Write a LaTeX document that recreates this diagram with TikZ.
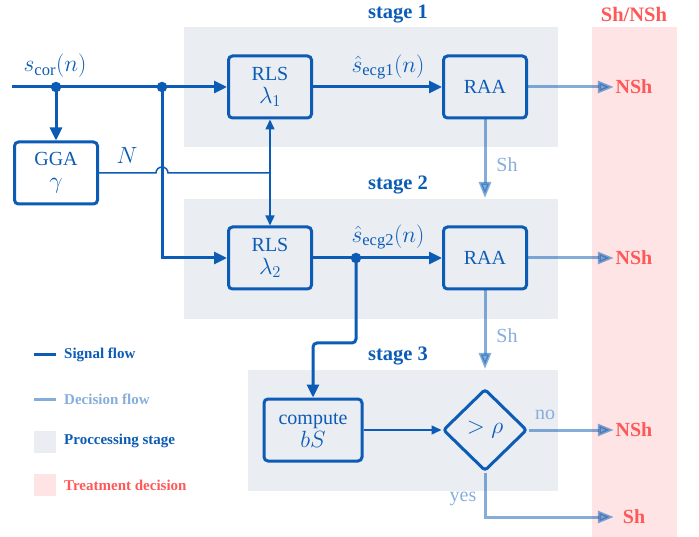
\RequirePackage{fix-cm}
\documentclass[tikz,border=0pt]{standalone}
\usepackage{fontspec}
\setmainfont{Liberation Serif}
\DeclareMathSizes{20}{23.5}{16.5}{12.5}
\usetikzlibrary{arrows.meta,shapes.geometric,calc}
\definecolor{sigblue}{RGB}{12,92,182}
\definecolor{stagegray}{RGB}{234,237,242}
\definecolor{pinkbg}{RGB}{254,228,228}
\definecolor{redtxt}{RGB}{255,88,88}
\begin{document}
\begin{tikzpicture}[x=1pt,y=-1pt,font=\fontsize{20}{23}\selectfont,
  block/.style={draw=sigblue,line width=3pt,rounded corners=4pt,minimum width=83pt,minimum height=62pt,text=sigblue,align=center,inner sep=0pt},
  decide/.style={diamond,draw=sigblue,line width=3pt,rounded corners=3pt,minimum width=84pt,minimum height=82pt,text=sigblue,inner sep=0pt},
  sig/.style={draw=sigblue,line width=3pt,-{Triangle[length=13pt,width=12pt]}},
  sigline/.style={draw=sigblue,line width=3pt},
  thinsig/.style={draw=sigblue,line width=1.5pt,-{Triangle[length=10pt,width=9pt]}},
  thinline/.style={draw=sigblue,line width=1.5pt},
  dec/.style={draw=sigblue,opacity=0.5,line width=3pt,-{Triangle[length=16pt,width=12pt]}},
  target/.style={text=redtxt,font=\fontsize{20}{23}\selectfont\bfseries,minimum width=40pt,inner sep=0pt},
  declabel/.style={text=sigblue!50,inner sep=0pt},
  stagelabel/.style={text=sigblue,font=\fontsize{20.5}{23}\selectfont\bfseries,inner sep=0pt},
  legtext/.style={font=\fontsize{15}{17}\selectfont\bfseries,anchor=west,inner sep=0pt},
  dot/.style={circle,fill=sigblue,inner sep=0pt,minimum size=10.5pt}
]
\useasboundingbox (0,0) rectangle (699,537);
% backgrounds
\fill[stagegray] (184,27) rectangle (558,147);
\fill[stagegray] (184,199) rectangle (558,319);
\fill[stagegray] (248,370) rectangle (558,491);
\fill[pinkbg] (592,27) rectangle (677,537);
% labels of stages
\node[stagelabel] (st1) at (398,14) {stage 1};
\node[stagelabel] (st2) at (398,185) {stage 2};
\node[stagelabel] (st3) at (398,356) {stage 3};
\node[text=redtxt,font=\fontsize{20.5}{23}\selectfont\bfseries,inner sep=0pt] (shnsh) at (634,14) {Sh/NSh};
% blocks
\node[block] (rls1) at (270,87) {RLS\\$\lambda_1$};
\node[block] (raa1) at (485,87) {RAA};
\node[block] (rls2) at (270,258) {RLS\\$\lambda_2$};
\node[block] (raa2) at (485,258) {RAA};
\node[block] (gga) at (56,173) {GGA\\$\gamma$};
\node[block,minimum width=98pt] (comp) at (313,430) {compute\\$bS$};
\node[decide] (dia) at (485,430) {$>\rho$};
% targets
\node[target] (nsh1) at (634,87) {NSh};
\node[target] (nsh2) at (634,258) {NSh};
\node[target] (nsh3) at (634,430) {NSh};
\node[target] (sh3) at (634,517) {Sh};
% coordinates
\coordinate (in) at (12,87);
\coordinate (d1) at (56,87);
\coordinate (d2) at (162,87);
\coordinate (nj) at (270,173);
\coordinate (d3) at (356,258);
\coordinate (s2top) at (485,198);
\coordinate (s3top) at (485,369);
% signal flow
\draw[sig] (in) -- (rls1.west);
\draw[sig] (d1) -- (gga.north);
\draw[sig] (d2) |- (rls2.west);
\draw[sig] (rls1) -- (raa1);
\draw[sig] (rls2) -- (raa2);
\draw[sig,rounded corners=4pt] (d3) -- ($(d3)+(0,85)$) -| (comp.north);
\node[dot] (dot1) at (d1) {};
\node[dot] (dot2) at (d2) {};
\node[dot] (dot3) at (d3) {};
\draw[thinline] (gga.east) -- (156,173) arc (180:360:6) -- (nj);
\draw[thinsig] (nj) -- (rls1.south);
\draw[thinsig] (nj) -- (rls2.north);
\draw[thinsig] (comp) -- (dia);
% signal labels
\node[text=sigblue] (lin) at (55,66) {$s_{\mathrm{cor}}(n)$};
\node[text=sigblue] (lN) at (127,155) {$N$};
\node[text=sigblue] (l1) at (388,67) {$\hat{s}_{\mathrm{ecg1}}(n)$};
\node[text=sigblue] (l2) at (388,237) {$\hat{s}_{\mathrm{ecg2}}(n)$};
% decision flow
\draw[dec] (raa1) -- (nsh1.west);
\draw[dec] (raa2) -- (nsh2.west);
\draw[dec] (dia) -- (nsh3.west);
\draw[dec] (dia.south) |- (sh3.west);
\draw[dec] (raa1.south) -- (s2top);
\draw[dec] (raa2.south) -- (s3top);
\node[declabel] (lsh1) at (507,165) {Sh};
\node[declabel] (lsh2) at (507,336) {Sh};
\node[declabel] (lno) at (545,415) {no};
\node[declabel] (lyes) at (463,499) {yes};
% legend
\coordinate (lg1a) at (34,355); \coordinate (lg1b) at (56,355);
\coordinate (lg2a) at (34,399); \coordinate (lg2b) at (56,399);
\draw[sigline] (lg1a) -- (lg1b);
\draw[draw=sigblue,opacity=0.5,line width=3pt] (lg2a) -- (lg2b);
\fill[stagegray] (34,431) rectangle (56,453);
\fill[pinkbg] (34,474) rectangle (56,496);
\node[legtext,text=sigblue] (t1) at (64,355) {Signal flow};
\node[legtext,text=sigblue!50] (t2) at (64,399) {Decision flow};
\node[legtext,text=sigblue] (t3) at (64,441) {Proccessing stage};
\node[legtext,text=redtxt] (t4) at (64,485) {Treatment decision};
\end{tikzpicture}
\end{document}
